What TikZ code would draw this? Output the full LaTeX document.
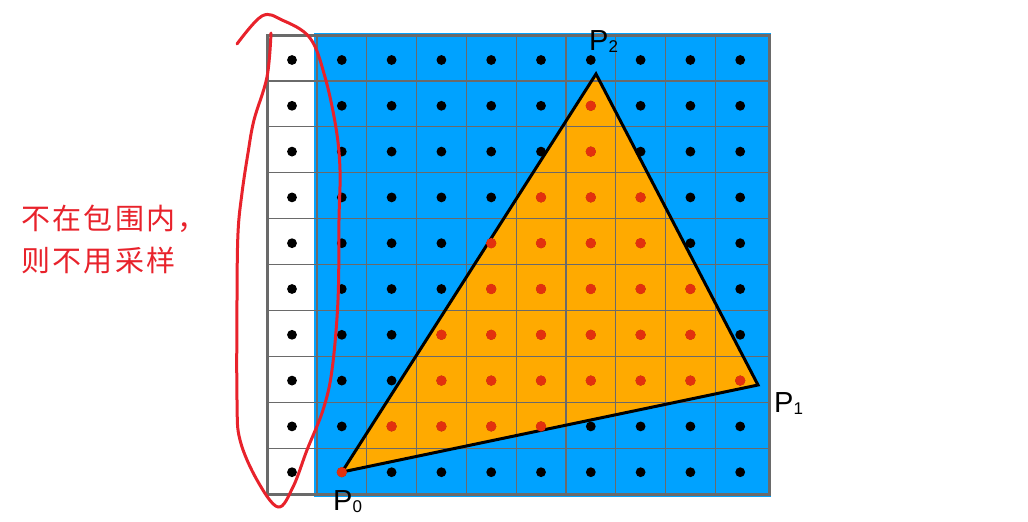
\documentclass[tikz,border=0pt]{standalone}
\usepackage{fontspec}
\setmainfont{Liberation Sans}
\newfontfamily\cjk[LetterSpace=8]{Noto Sans CJK SC}
\definecolor{skyblue}{HTML}{00A2FF}
\definecolor{triorange}{HTML}{FFAA00}
\definecolor{gridgray}{HTML}{6A6A6A}
\definecolor{markred}{HTML}{E8222B}
\definecolor{dotred}{HTML}{E3300E}
\newcommand\subidx[1]{{\fontsize{17}{17}\selectfont\raisebox{-2pt}{#1}}}
\begin{document}
\begin{tikzpicture}[x=1pt,y=-1pt,
  gridline/.style={draw=gridgray, line width=1.2},
  borderline/.style={draw=gridgray, line width=3},
  blackdot/.style={fill=black},
  reddot/.style={fill=dotred},
  plabel/.style={inner sep=0pt, font=\fontsize{29}{29}\selectfont},
  cjktext/.style={inner sep=0pt, text=markred, font=\cjk\fontsize{29}{29}\selectfont},
  loop/.style={draw=markred, line width=3, line cap=round, line join=round}]
\useasboundingbox (0,0) rectangle (1028,522);
% blue area
\fill[skyblue] (314,33) rectangle (771,497);
% triangle
\coordinate (p0) at (342,472);
\coordinate (p1) at (758,385);
\coordinate (p2) at (596,74);
\fill[triorange] (p0) -- (p1) -- (p2) -- cycle;
% grid
\foreach \x in {317,366.8,416.6,466.4,516.2,566,615.8,665.6,715.4}
  \draw[gridline] (\x,35) -- (\x,494);
\foreach \k in {1,...,9}
  \draw[gridline] (267,35+45.9*\k) -- (769,35+45.9*\k);
\draw[borderline] (267,35) rectangle (769,494);
% triangle edges
\draw[line width=3, line join=miter] (p0) -- (p1) -- (p2) -- cycle;
% sample dots
\foreach \i in {0,...,9}
  \foreach \j in {0,...,9}
    \fill[blackdot] (292+49.8*\i,60+45.8*\j) circle (4.9);
\foreach \i/\j in {6/1,6/2,5/3,6/3,7/3,4/4,5/4,6/4,7/4,4/5,5/5,6/5,7/5,8/5,
  3/6,4/6,5/6,6/6,7/6,8/6,3/7,4/7,5/7,6/7,7/7,8/7,9/7,2/8,3/8,4/8,5/8,1/9}
  \fill[reddot] (292+49.8*\i,60+45.8*\j) circle (5.2);
% vertex labels
\node[plabel, anchor=base west] (l0) at (333,510) {P\subidx{0}};
\node[plabel, anchor=base west] (l1) at (774,412) {P\subidx{1}};
\node[plabel, anchor=base west] (l2) at (589,50) {P\subidx{2}};
% hand-drawn loop
\draw[loop] plot[smooth, tension=0.6] coordinates {
  (237,44) (262,16) (282,20) (310,38) (325,77) (336,128) (340,170) (339,220)
  (338,300) (332,370) (323,410) (307,450) (293,487) (278,507) (257,480)
  (240,440) (237,400) (237,300) (238,233) (242,193) (248,153) (254,120)
  (267,77) (271,33)};
% annotation
\node[cjktext, anchor=base west] (t1) at (21,229) {不在包围内，};
\node[cjktext, anchor=base west] (t2) at (21,271) {则不用采样};
\end{tikzpicture}
\end{document}
